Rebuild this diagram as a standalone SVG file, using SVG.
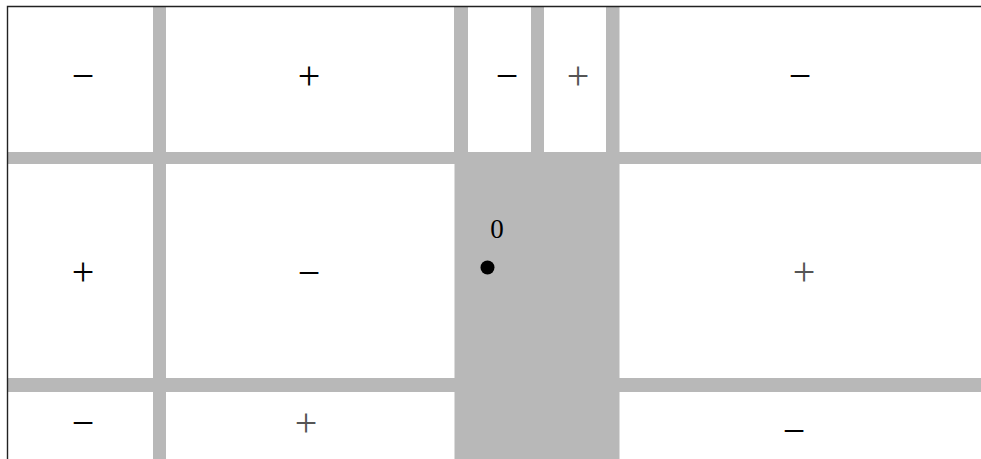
<svg xmlns="http://www.w3.org/2000/svg" width="981" height="459" viewBox="0 0 981 459">
<style>
.bar{fill:#b8b8b8}
.p{font-family:"Liberation Serif",serif;font-size:40px;text-anchor:middle}
.m{font-family:"Liberation Serif",serif;font-size:40px;text-anchor:middle}
.k{fill:#000}
.g{fill:#555}
.border{stroke:#222;stroke-width:1.4;fill:none}
</style>
<rect x="0" y="0" width="981" height="459" fill="#fff"/>
<g id="strips">
<rect class="bar" x="8" y="152" width="973" height="12"/>
<rect class="bar" x="8" y="378" width="973" height="14"/>
<rect class="bar" x="153" y="7" width="13" height="452"/>
<rect class="bar" x="454" y="7" width="14" height="146"/>
<rect class="bar" x="531" y="7" width="13" height="146"/>
<rect class="bar" x="606" y="7" width="13.5" height="146"/>
<rect class="bar" x="454.5" y="152" width="165" height="307"/>
</g>
<g id="border">
<path class="border" d="M7.5 459 V6.5 H981"/>
</g>
<g id="signs">
<text class="m k" x="83" y="89">−</text>
<text class="p k" x="309" y="89">+</text>
<text class="m k" x="507" y="89">−</text>
<text class="p g" x="578" y="89">+</text>
<text class="m k" x="800" y="89">−</text>
<text class="p k" x="83" y="285">+</text>
<text class="m k" x="309" y="286">−</text>
<text class="p g" x="804" y="285">+</text>
<text class="m k" x="83" y="436">−</text>
<text class="p g" x="306" y="436">+</text>
<text class="m k" x="794" y="444">−</text>
</g>
<g id="origin">
<text style="font-family:'Liberation Serif',serif;font-size:27px;text-anchor:middle" x="497" y="238">0</text>
<circle cx="487.5" cy="267.5" r="7" fill="#000"/>
</g>
</svg>
